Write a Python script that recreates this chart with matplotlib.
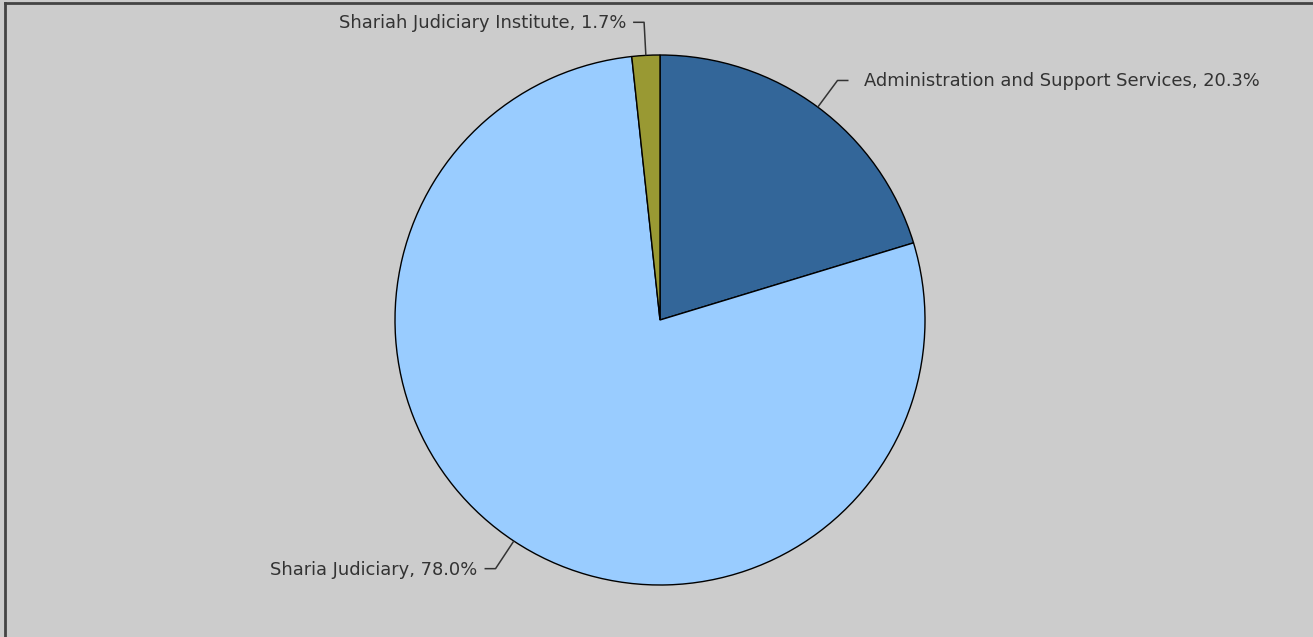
import numpy as np
import matplotlib
matplotlib.use("Agg")
import matplotlib.pyplot as plt

# data
labels = ["Administration and Support Services", "Sharia Judiciary", "Shariah Judiciary Institute"]
shares = [20.3, 78.0, 1.7]
colors = ["#336699", "#99ccff", "#999933"]

W, H = 1313, 637
fig = plt.figure(figsize=(W / 100, H / 100), dpi=100)
fig.patch.set_facecolor("#cccccc")
ax = fig.add_axes([0, 0, 1, 1])
ax.set_facecolor("#cccccc")

cx, cy, r = 660, H - 320, 265
wedges, _ = ax.pie(shares, colors=colors, startangle=90, counterclock=False,
                   center=(cx, cy), radius=r, frame=True,
                   wedgeprops=dict(edgecolor="black", linewidth=1))
ax.set_xlim(0, W)
ax.set_ylim(0, H)
ax.set_aspect("equal")
ax.axis("off")

# leader lines + labels
for w, lab, val in zip(wedges, labels, shares):
    mid = np.deg2rad((w.theta1 + w.theta2) / 2)
    x0, y0 = cx + r * np.cos(mid), cy + r * np.sin(mid)
    x1, y1 = cx + 1.125 * r * np.cos(mid), cy + 1.125 * r * np.sin(mid)
    side = 1 if np.cos(mid) >= 0 else -1
    x2 = x1 + side * 11
    ax.plot([x0, x1, x2], [y0, y1, y1], color="#333333", lw=1.1,
            solid_capstyle="butt")
    gap = 16 if side > 0 else 7
    ax.text(x2 + side * gap, y1 - 1, f"{lab}, {val:.1f}%", fontsize=12.9,
            color="#333333", va="center",
            ha="left" if side > 0 else "right")

# frame on top and left like the crop
fig.add_artist(plt.Line2D([5 / W, 5 / W], [0, 1 - 3 / H], transform=fig.transFigure,
                          color="#444444", lw=2))
fig.add_artist(plt.Line2D([5 / W, 1], [1 - 3 / H, 1 - 3 / H], transform=fig.transFigure,
                          color="#444444", lw=2))

fig.savefig("out.png", dpi=100, facecolor=fig.get_facecolor())
